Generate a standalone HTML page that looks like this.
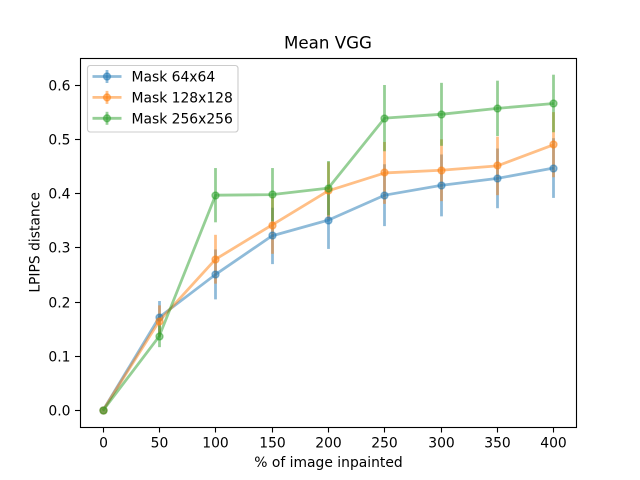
<!DOCTYPE html>
<html>
<head>
<meta charset="utf-8">
<title>Mean VGG</title>
<style>
html,body{margin:0;padding:0;background:#fff;width:640px;height:480px;overflow:hidden}
svg{display:block}
text{font-family:"DejaVu Sans","Liberation Sans",sans-serif;fill:#000}
</style>
</head>
<body>
<svg id="chart" xmlns="http://www.w3.org/2000/svg" width="640" height="480" viewBox="0 0 640 480">
  <rect x="0" y="0" width="640" height="480" fill="#fff"/>
  <text x="328" y="48.5" font-size="16.67" text-anchor="middle">Mean VGG</text>
  <text x="328.5" y="467" font-size="13.89" text-anchor="middle">% of image inpainted</text>
  <text x="0" y="0" font-size="13.89" text-anchor="middle" transform="translate(39.5 242.4) rotate(-90)">LPIPS distance</text>
  <g id="marks"></g>
  <g id="axes"></g>
  <g id="legend"></g>
</svg>
<script>
const categories = [0, 50, 100, 150, 200, 250, 300, 350, 400];
const xTickLabels = [0, 50, 100, 150, 200, 250, 300, 350, 400];
const yTickLabels = ["0.0", "0.1", "0.2", "0.3", "0.4", "0.5", "0.6"];
const seriesNames = ["Mask 64x64", "Mask 128x128", "Mask 256x256"];
const mask64 = [0, 0.172, 0.251, 0.322, 0.351, 0.397, 0.415, 0.428, 0.447];
const mask64Err = [0, 0.030, 0.046, 0.052, 0.053, 0.057, 0.057, 0.055, 0.055];
const mask128 = [0, 0.165, 0.279, 0.342, 0.405, 0.438, 0.443, 0.451, 0.490];
const mask128Err = [0, 0.029, 0.045, 0.053, 0.053, 0.057, 0.057, 0.054, 0.060];
const mask256 = [0, 0.137, 0.397, 0.398, 0.410, 0.539, 0.546, 0.557, 0.566];
const mask256Err = [0, 0.020, 0.050, 0.049, 0.050, 0.061, 0.058, 0.051, 0.053];

const NS = "http://www.w3.org/2000/svg";
const plot = { left: 80, right: 576, top: 57.6, bottom: 427.2 };
const xDomain = [-20, 420];
const yDomain = [-0.0305, 0.6505];
function xScale(v) {
  return plot.left + (v - xDomain[0]) / (xDomain[1] - xDomain[0]) * (plot.right - plot.left);
}
function yScale(v) {
  return plot.bottom - (v - yDomain[0]) / (yDomain[1] - yDomain[0]) * (plot.bottom - plot.top);
}
function snapX(px) {
  return Math.floor(px + 0.5) + 0.5;
}
function snapY(px) {
  return Math.floor(px) + 0.5;
}
function make(tag, attrs, parent) {
  const el = document.createElementNS(NS, tag);
  for (const k in attrs) el.setAttribute(k, attrs[k]);
  parent.appendChild(el);
  return el;
}

const marks = document.getElementById("marks");
const axes = document.getElementById("axes");
const legend = document.getElementById("legend");
const seriesData = [
  { values: mask64, errs: mask64Err, color: "#1f77b4", key: "mask-64" },
  { values: mask128, errs: mask128Err, color: "#ff7f0e", key: "mask-128" },
  { values: mask256, errs: mask256Err, color: "#2ca02c", key: "mask-256" }
];

seriesData.forEach(function (s) {
  s.values.forEach(function (v, i) {
    if (s.errs[i] === 0) return;
    const cx = snapX(xScale(categories[i]));
    const bar = make("line", { x1: cx, x2: cx, y1: yScale(v - s.errs[i]), y2: yScale(v + s.errs[i]), stroke: s.color, "stroke-width": 2.78, "stroke-opacity": 0.5 }, marks);
    
    
  });
});

seriesData.forEach(function (s) {
  const pts = s.values.map(function (v, i) { return (xScale(categories[i]) + 0.3) + "," + yScale(v); }).join(" ");
  const line = make("polyline", { points: pts, fill: "none", stroke: s.color, "stroke-width": 2.78, "stroke-opacity": 0.5, "stroke-linejoin": "round" }, marks);
  
  
  s.values.forEach(function (v, i) {
    const cx = snapX(xScale(categories[i]));
    const cy = snapY(yScale(v));
    const dot = make("circle", { cx: cx, cy: cy, r: 3.47, fill: s.color, "fill-opacity": 0.5 }, marks);
    
    
    const ring = make("circle", { cx: cx, cy: cy, r: 3.47, fill: "none", stroke: s.color, "stroke-width": 1.39, "stroke-opacity": 0.5 }, marks);
    
    
  });
});

const frame = make("rect", { x: 80.5, y: 58.5, width: 496, height: 369, fill: "none", stroke: "#000", "stroke-width": 1.11 }, axes);



xTickLabels.forEach(function (t, i) {
  const x = snapX(xScale(categories[i]));
  const tick = make("line", { x1: x, x2: x, y1: 427.5, y2: 432.5, stroke: "#000", "stroke-width": 1.11 }, axes);
  
  
  const label = make("text", { x: x, y: 447.5, "font-size": 13.89, "text-anchor": "middle" }, axes);
  label.textContent = t;
  
  
});
yTickLabels.forEach(function (t) {
  const y = snapY(yScale(parseFloat(t)));
  const tick = make("line", { x1: 75, x2: 80.5, y1: y, y2: y, stroke: "#000", "stroke-width": 1.11 }, axes);
  
  
  const label = make("text", { x: 70.5, y: y + 5, "font-size": 13.89, "text-anchor": "end" }, axes);
  label.textContent = t;
  
  
});

const legendBox = make("rect", { x: 87.5, y: 65.5, width: 150.5, height: 66.5, rx: 2.8, ry: 2.8, fill: "#fff", "fill-opacity": 0.8, stroke: "#ccc", "stroke-width": 1.11 }, legend);


seriesNames.forEach(function (name, i) {
  const color = seriesData[i].color;
  const y = 76.5 + i * 20.9;
  const hBar = make("line", { x1: 107, x2: 107, y1: y - 6.5, y2: y + 6.5, stroke: color, "stroke-width": 2.78, "stroke-opacity": 0.5 }, legend);
  
  
  const hLine = make("line", { x1: 92.5, x2: 121.5, y1: y, y2: y, stroke: color, "stroke-width": 2.78, "stroke-opacity": 0.5 }, legend);
  
  
  const hDot = make("circle", { cx: 107, cy: y, r: 3.47, fill: color, "fill-opacity": 0.5, stroke: color, "stroke-width": 1.39, "stroke-opacity": 0.5 }, legend);
  
  
  const hText = make("text", { x: 131.5, y: y + 5, "font-size": 13.89 }, legend);
  hText.textContent = name;
  
  
});
</script>
</body>
</html>
